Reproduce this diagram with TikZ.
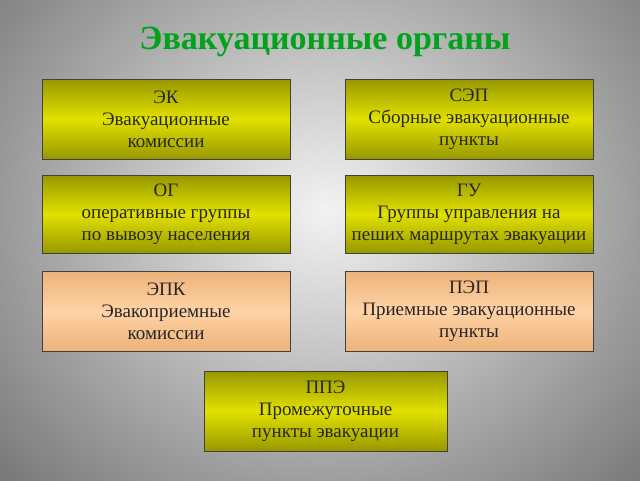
\documentclass[tikz,border=0pt]{standalone}
\usepackage{fontspec}
\setmainfont{Liberation Serif}
\begin{document}
\begin{tikzpicture}[x=1pt,y=-1pt,
  ybox/.style={draw=black!75,line width=0.8pt,top color=yellow!40!olive!85!black,bottom color=yellow!40!olive!85!black,middle color=yellow!75!olive!95,align=center,font=\fontsize{19}{22}\selectfont,text=black!85,inner sep=0pt},
  pbox/.style={ybox,top color=orange!50!brown!60!white,bottom color=orange!50!brown!60!white,middle color=orange!35!white}]
\useasboundingbox (0,0) rectangle (640,480);
\clip (0,0) rectangle (640,480);
\shade[inner color=white!95!black,outer color=black!55] (-140,-200) rectangle (790,620);
\node[font=\fontsize{34}{40}\selectfont\bfseries,text=green!60!black!90!cyan] (title) at (325,42) {Эвакуационные органы};
\node[ybox,minimum width=248pt,minimum height=80pt] (ek) at (166,119) {ЭК\\Эвакуационные\\комиссии};
\node[ybox,minimum width=248pt,minimum height=80pt] (sep) at (469,119) {СЭП\\Сборные эвакуационные\\пункты};
\node[ybox,minimum width=248pt,minimum height=78pt] (og) at (166,214) {ОГ\\оперативные группы\\ по вывозу населения};
\node[ybox,minimum width=248pt,minimum height=78pt] (gu) at (469,214) {ГУ\\Группы управления на\\пеших маршрутах эвакуации};
\node[pbox,minimum width=248pt,minimum height=80pt] (epk) at (166,311) {ЭПК\\Эвакоприемные\\комиссии};
\node[pbox,minimum width=248pt,minimum height=80pt] (pep) at (469,311) {ПЭП\\Приемные эвакуационные\\пункты};
\node[ybox,minimum width=243pt,minimum height=80pt] (ppe) at (325.5,411) {ППЭ\\Промежуточные\\ пункты эвакуации};
\end{tikzpicture}
\end{document}
